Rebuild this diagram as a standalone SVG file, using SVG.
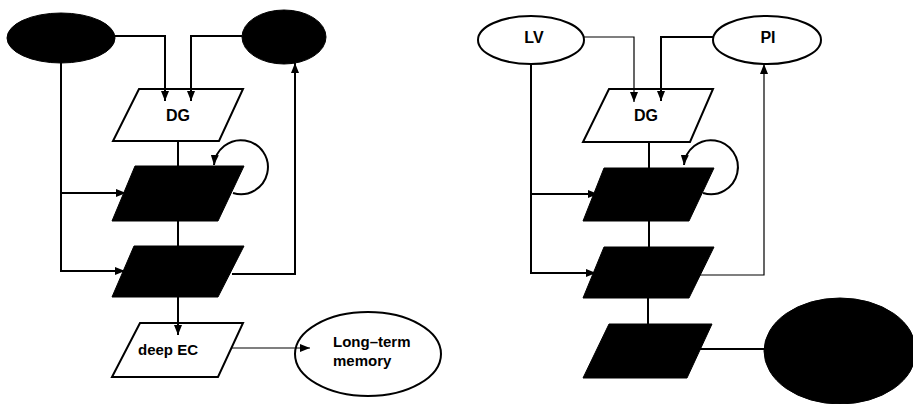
<svg xmlns="http://www.w3.org/2000/svg" width="913" height="404" viewBox="0 0 913 404">
<style>
.bg{fill:#fff}
.w{fill:#fff;stroke:#000;stroke-width:2}
.b{fill:#000;stroke:#000;stroke-width:1}
.ln{fill:none;stroke:#000;stroke-width:2}
.th{fill:none;stroke:#000;stroke-width:1.2}
text{font-family:"Liberation Sans",Arial,sans-serif;font-weight:bold;fill:#000}
.lb{font-size:16px;text-anchor:middle}
.sm{font-size:15px}
</style>
<defs>
<marker id="ah" markerUnits="userSpaceOnUse" markerWidth="10" markerHeight="8" refX="10" refY="4" orient="auto">
<path d="M0,0 L10,4 L0,8 z" fill="#000"/>
</marker>
</defs>
<rect class="bg" x="0" y="0" width="913" height="404"/>
<g id="left-top-ellipse"><ellipse class="b" cx="61" cy="38" rx="54" ry="25"/></g>
<g id="right-top-ellipse"><ellipse class="b" cx="284" cy="37" rx="42" ry="27"/></g>
<g id="dg-left"><polygon class="w" points="139,89 243,89 219,141 113,141"/><text class="lb" x="178" y="121">DG</text></g>
<g id="box1-left"><polygon class="b" points="135,166 244,166 218,221 112,221"/></g>
<g id="box2-left"><polygon class="b" points="134,246 244,246 218,297 112,297"/></g>
<g id="deep-ec"><polygon class="w" points="140,323 243,323 218,377 112,377"/><text class="sm" x="168" y="355" text-anchor="middle">deep EC</text></g>
<g id="long-term"><ellipse class="w" cx="368" cy="354" rx="73" ry="42"/><text class="sm" x="333" y="347">Long–term</text><text class="sm" x="333" y="366">memory</text></g>
<g id="lv"><ellipse class="w" cx="531" cy="40" rx="53" ry="24"/><text class="lb" x="534" y="43">LV</text></g>
<g id="pi"><ellipse class="w" cx="767" cy="40" rx="54" ry="24"/><text class="lb" x="768" y="43">PI</text></g>
<g id="dg-right"><polygon class="w" points="609,89 713,89 690,142 583,142"/><text class="lb" x="646" y="121">DG</text></g>
<g id="box1-right"><polygon class="b" points="604,168 714,168 689,221 583,221"/></g>
<g id="box2-right"><polygon class="b" points="604,247 714,247 689,298 583,298"/></g>
<g id="box3-right"><polygon class="b" points="609,324 712,324 687,378 583,378"/></g>
<g id="right-big-ellipse"><ellipse class="b" cx="840" cy="351" rx="76" ry="53"/></g>
<g id="connectors">
<path class="ln" d="M115,36 H165 V101" marker-end="url(#ah)"/>
<path class="ln" d="M242,36 H191 V101" marker-end="url(#ah)"/>
<path class="ln" d="M178,141 V166"/>
<path class="ln" d="M178,221 V246"/>
<path class="ln" d="M61,63 V271 H125" marker-end="url(#ah)"/>
<path class="ln" d="M61,193 H126" marker-end="url(#ah)"/>
<path class="ln" d="M232,274 H295 V63" marker-end="url(#ah)"/>
<path class="ln" d="M233,193 A27,27 0 1 0 214,165" marker-end="url(#ah)"/>
<path class="ln" d="M178,297 V335" marker-end="url(#ah)"/>
<path class="th" d="M232,348 H310" marker-end="url(#ah)"/>
<path class="th" d="M584,37 H634 V102" marker-end="url(#ah)"/>
<path class="ln" d="M713,37 H661 V101" marker-end="url(#ah)"/>
<path class="ln" d="M649,142 V168"/>
<path class="ln" d="M649,221 V247"/>
<path class="ln" d="M531,65 V273 H596" marker-end="url(#ah)"/>
<path class="ln" d="M531,194 H598" marker-end="url(#ah)"/>
<path class="th" d="M700,275 H764 V64" marker-end="url(#ah)"/>
<path class="ln" d="M703,193 A27,27 0 1 0 684,165" marker-end="url(#ah)"/>
<path class="ln" d="M648,298 V324"/>
<path class="ln" d="M700,349 H766"/>
</g>
</svg>
